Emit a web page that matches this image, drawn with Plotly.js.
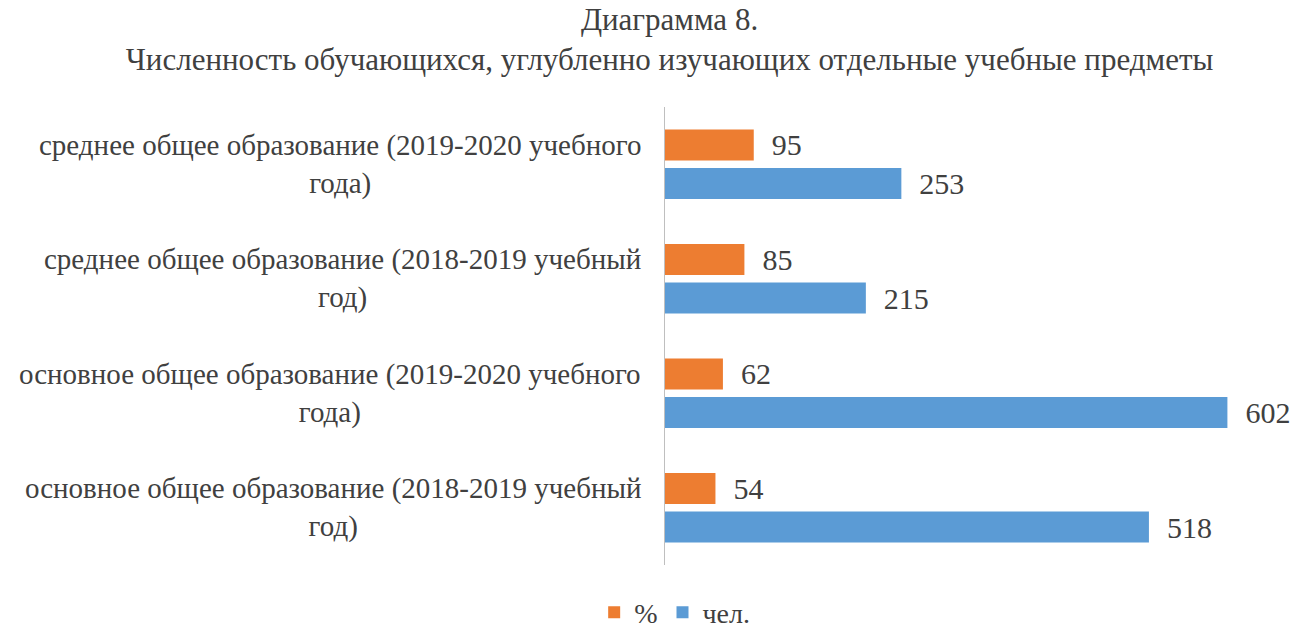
<!DOCTYPE html>
<html><head><meta charset="utf-8">
<script src="https://cdn.plot.ly/plotly-3.0.1.min.js"></script>
<style>
html,body{margin:0;padding:0;background:#fff}
#chart{width:1290px;height:629px}
svg text, svg tspan{font-family:"Liberation Serif","Times New Roman",serif !important}
</style>
</head><body><div id="chart"></div>
<script>
// categories bottom -> top
const categories = [
  "основное общее образование (2018-2019 учебный<br>год)",
  "основное общее образование (2019-2020 учебного<br>года)",
  "среднее общее образование (2018-2019 учебный<br>год)",
  "среднее общее образование (2019-2020 учебного<br>года)"
];
const percentValues = [54, 62, 85, 95];
const peopleValues = [518, 602, 215, 253];
const seriesNames = ["%", "чел."];
const titleText = "Диаграмма 8.<br>Численность обучающихся, углубленно изучающих отдельные учебные предметы";

const FONT = "Liberation Serif";
const TXT = "#404040";
const PAD = "\u00a0\u00a0";

const traces = [
  {
    type: "bar", orientation: "h", name: seriesNames[1],
    y: categories, x: peopleValues,
    marker: {color: "#5b9bd5"},
    text: peopleValues.map(v => PAD + v), textposition: "outside",
    constraintext: "none", cliponaxis: false,
    textfont: {family: FONT, size: 30, color: TXT}
  },
  {
    type: "bar", orientation: "h", name: seriesNames[0],
    y: categories, x: percentValues,
    marker: {color: "#ed7d31"},
    text: percentValues.map(v => PAD + v), textposition: "outside",
    constraintext: "none", cliponaxis: false,
    textfont: {family: FONT, size: 30, color: TXT}
  }
];

const annotations = categories.map(c => ({
  xref: "paper", yref: "y", x: 0, y: c, xanchor: "right", yanchor: "middle",
  xshift: -22, align: "center", showarrow: false, text: c,
  font: {family: FONT, size: 29, color: TXT}
}));

const layout = {
  width: 1290, height: 629,
  margin: {l: 665, r: 0, t: 107, b: 64},
  paper_bgcolor: "#fff", plot_bgcolor: "#fff",
  font: {family: FONT},
  title: {text: titleText, font: {family: FONT, size: 31, color: TXT},
          x: 0.519, xanchor: "center", y: 0.952, yanchor: "top", yref: "container"},
  barmode: "group", bargap: 0.327, bargroupgap: 0.195,
  xaxis: {range: [0, 669], visible: false, showgrid: false, zeroline: false, fixedrange: true},
  yaxis: {type: "category", categoryorder: "array", categoryarray: categories,
          showticklabels: false, ticks: "", showgrid: false, zeroline: false,
          showline: true, linecolor: "#bfbfbf", linewidth: 1, fixedrange: true},
  showlegend: true,
  legend: {orientation: "h", traceorder: "reversed", x: 0.523, xanchor: "center",
           xref: "container", y: 0.026, yanchor: "middle", yref: "container",
           font: {family: FONT, size: 28, color: TXT}},
  annotations: annotations
};

Plotly.newPlot("chart", traces, layout, {staticPlot: true});
</script></body></html>
